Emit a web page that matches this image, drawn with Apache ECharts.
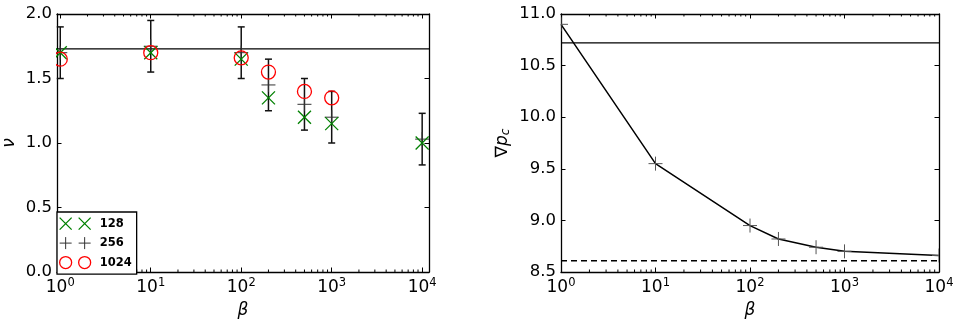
<!DOCTYPE html>
<html><head><meta charset="utf-8">
<script src="https://cdn.jsdelivr.net/npm/echarts@6/dist/echarts.min.js"></script>
<style>html,body{margin:0;padding:0;background:#fff}#c{width:957px;height:324px}</style>
</head><body><div id="c"></div>
<script>
// ---- data (left panel: nu vs beta) ----
const betaLeft = [1, 10, 100, 200, 500, 1000, 10000];
const nu128 = [1.70, 1.70, 1.65, 1.35, 1.20, 1.15, 1.00];
const nu256 = [1.70, 1.75, 1.70, 1.45, 1.30, 1.20, 1.03];
const nu256Low = [1.50, 1.55, 1.50, 1.25, 1.10, 1.00, 0.83];
const nu256High = [1.90, 1.95, 1.90, 1.65, 1.50, 1.40, 1.23];
const beta1024 = [1, 10, 100, 200, 500, 1000];
const nu1024 = [1.65, 1.70, 1.66, 1.55, 1.40, 1.35];
const nuRef = 1.73;
const legendNames = ['128', '256', '1024'];

// ---- data (right panel: grad p_c vs beta) ----
const betaRight = [1, 10, 100, 200, 500, 1000, 10000];
const gradPc = [10.90, 9.55, 8.95, 8.82, 8.74, 8.70, 8.66];
const gradPcUpper = 10.72;
const gradPcLower = 8.61;

// ---- axis ranges / ticks ----
const leftX = [0.92, 11900];
const rightX = [1, 10000];
const leftY = [0, 2];
const rightY = [8.5, 11];
const yInterval = 0.5;
const minorMult = [2, 3, 4, 5, 6, 7, 8, 9];
const decades = [1, 10, 100, 1000];

const FONT = 'DejaVu Sans';
const minorTicks = (lo, hi) => {
  const out = [];
  decades.forEach(d => minorMult.forEach(m => { const v = d * m; if (v > lo && v < hi) out.push(v); }));
  return out;
};

const powFmt = v => {
  const e = Math.log10(v); const r = Math.round(e);
  if (Math.abs(e - r) > 1e-6) return '';
  return '{b|10}{s|' + r + '}';
};
const powRich = {
  b: { fontSize: 17, fontFamily: FONT, color: '#000' },
  s: { fontSize: 11.5, fontFamily: FONT, color: '#000', padding: [0, 0, 9, 0] }
};

function xAxisDef(grid, range, pos, withLabel) {
  return {
    gridIndex: grid, type: 'log', logBase: 10, min: range[0], max: range[1], position: pos,
    axisLine: { show: true, onZero: false, lineStyle: { color: '#000', width: 1.3 } },
    axisTick: { show: true, inside: true, length: 4.5, lineStyle: { color: '#000', width: 1 } },
    axisLabel: withLabel ? { show: true, formatter: powFmt, rich: powRich, margin: 5, color: '#000' } : { show: false },
    splitLine: { show: false }, minorTick: { show: false },
    name: withLabel ? 'β' : '', nameLocation: 'middle', nameGap: 30,
    nameTextStyle: { fontStyle: 'italic', fontSize: 17, fontFamily: FONT, color: '#000' }
  };
}
function yAxisDef(grid, range, pos, withLabel, name, gap, rich) {
  return {
    gridIndex: grid, type: 'value', min: range[0], max: range[1], interval: yInterval, position: pos,
    axisLine: { show: true, onZero: false, lineStyle: { color: '#000', width: 1.3 } },
    axisTick: { show: true, inside: true, length: 4.5, lineStyle: { color: '#000', width: 1 } },
    axisLabel: withLabel ? { show: true, formatter: v => v.toFixed(1), fontSize: 16.5, fontFamily: FONT, color: '#000', margin: 5 } : { show: false },
    splitLine: { show: false },
    name: withLabel ? name : '', nameLocation: 'middle', nameGap: gap, nameRotate: 90,
    nameTextStyle: { fontSize: 17, fontFamily: FONT, color: '#000', fontStyle: 'italic', rich: rich || {} }
  };
}

function minorTickSeries(xIdx, yIdx, ticks, yr) {
  return {
    type: 'custom', xAxisIndex: xIdx, yAxisIndex: yIdx, silent: true, z: 1,
    data: ticks.map(v => [v, yr[0]]),
    encode: { x: 0, y: 1 },
    renderItem: (params, api) => {
      const b = api.coord([api.value(0), yr[0]]);
      const t = api.coord([api.value(0), yr[1]]);
      return { type: 'group', children: [
        { type: 'line', shape: { x1: b[0], y1: b[1], x2: b[0], y2: b[1] - 2.5 }, style: { stroke: '#000', lineWidth: 1 } },
        { type: 'line', shape: { x1: t[0], y1: t[1], x2: t[0], y2: t[1] + 2.5 }, style: { stroke: '#000', lineWidth: 1 } }
      ] };
    }
  };
}

function markerSeries(name, xIdx, yIdx, xs, ys, kind, color, size, lw, z) {
  return {
    name, type: 'custom', xAxisIndex: xIdx, yAxisIndex: yIdx, z, clip: true, silent: true,
    data: xs.map((b, i) => [b, ys[i]]), encode: { x: 0, y: 1 },
    itemStyle: { color },
    renderItem: (params, api) => {
      const p = api.coord([api.value(0), api.value(1)]);
      const h = size / 2;
      const st = { stroke: color, lineWidth: lw, fill: null };
      const ln = (a, b, c, d) => ({ type: 'line', shape: { x1: a, y1: b, x2: c, y2: d }, style: st });
      if (kind === 'o') return { type: 'circle', shape: { cx: p[0], cy: p[1], r: h }, style: st };
      if (kind === 'x') return { type: 'group', children: [
        ln(p[0] - h, p[1] - h, p[0] + h, p[1] + h), ln(p[0] - h, p[1] + h, p[0] + h, p[1] - h)] };
      return { type: 'group', children: [
        ln(p[0] - h, p[1], p[0] + h, p[1]), ln(p[0], p[1] - h, p[0], p[1] + h)] };
    }
  };
}

function hLine(xIdx, yIdx, xr, yv, width, type) {
  return {
    type: 'line', xAxisIndex: xIdx, yAxisIndex: yIdx, silent: true, z: 2, symbol: 'none',
    data: [[xr[0], yv], [xr[1], yv]],
    lineStyle: { color: '#000', width, type }
  };
}

const option = {
  animation: false,
  backgroundColor: '#fff',
  grid: [
    { left: 52, top: 14, width: 377, height: 264 },
    { left: 561, top: 14, width: 378, height: 264 }
  ],
  xAxis: [
    xAxisDef(0, leftX, 'bottom', true),
    xAxisDef(0, leftX, 'top', false),
    xAxisDef(1, rightX, 'bottom', true),
    xAxisDef(1, rightX, 'top', false)
  ],
  yAxis: [
    yAxisDef(0, leftY, 'left', true, 'ν', 39),
    yAxisDef(0, leftY, 'right', false),
    yAxisDef(1, rightY, 'left', true, '{n|∇}{i|p}{s|c}', 49, {
      n: { fontSize: 17, fontFamily: FONT, color: '#000' },
      i: { fontSize: 17, fontFamily: FONT, color: '#000', fontStyle: 'italic' },
      s: { fontSize: 12, fontFamily: FONT, color: '#000', fontStyle: 'italic', padding: [7, 0, 0, 0] }
    }),
    yAxisDef(1, rightY, 'right', false)
  ],
  legend: {
    left: 57, top: 212, orient: 'vertical', selectedMode: false,
    data: [
      { name: legendNames[0], icon: 'path://M0,0L12,12M12,0L0,12M19,0L31,12M31,0L19,12',
        itemStyle: { color: 'rgba(0,0,0,0)', borderColor: '#008000', borderWidth: 1.3 } },
      { name: legendNames[1], icon: 'path://M6,0L6,12M0,6L12,6M25,0L25,12M19,6L31,6',
        itemStyle: { color: 'rgba(0,0,0,0)', borderColor: '#333', borderWidth: 1 } },
      { name: legendNames[2], icon: 'path://M0,6A6,6,0,1,1,12,6A6,6,0,1,1,0,6M19,6A6,6,0,1,1,31,6A6,6,0,1,1,19,6',
        itemStyle: { color: 'rgba(0,0,0,0)', borderColor: '#ff0000', borderWidth: 1.3 } }
    ],
    itemWidth: 31, itemHeight: 12, itemGap: 6.3,
    padding: [5, 5, 5, 2],
    borderColor: '#000', borderWidth: 1.3, backgroundColor: '#fff', borderRadius: 0,
    textStyle: { fontSize: 11.5, fontWeight: 'bold', fontFamily: FONT, color: '#000', padding: [0, 0, 0, 4] }
  },
  series: [
    minorTickSeries(0, 0, minorTicks(leftX[0], leftX[1]), leftY),
    minorTickSeries(2, 2, minorTicks(rightX[0], rightX[1]), rightY),
    hLine(0, 0, leftX, nuRef, 1.1, 'solid'),
    {
      name: 'errorbars', type: 'custom', xAxisIndex: 0, yAxisIndex: 0, z: 3, silent: true,
      data: betaLeft.map((b, i) => [b, nu256Low[i], nu256High[i]]),
      encode: { x: 0, y: [1, 2] },
      renderItem: (params, api) => {
        const lo = api.coord([api.value(0), api.value(1)]);
        const hi = api.coord([api.value(0), api.value(2)]);
        const st = { stroke: '#111', lineWidth: 1.5 };
        const c = 3.5;
        return { type: 'group', children: [
          { type: 'line', shape: { x1: lo[0], y1: lo[1], x2: hi[0], y2: hi[1] }, style: st },
          { type: 'line', shape: { x1: lo[0] - c, y1: lo[1], x2: lo[0] + c, y2: lo[1] }, style: st },
          { type: 'line', shape: { x1: hi[0] - c, y1: hi[1], x2: hi[0] + c, y2: hi[1] }, style: st }
        ] };
      }
    },
    markerSeries(legendNames[1], 0, 0, betaLeft, nu256, '+', '#333', 14, 1, 4),
    markerSeries(legendNames[0], 0, 0, betaLeft, nu128, 'x', '#008000', 13, 1.3, 5),
    markerSeries(legendNames[2], 0, 0, beta1024, nu1024, 'o', '#ff0000', 14, 1.3, 6),
    hLine(2, 2, rightX, gradPcUpper, 1.1, 'solid'),
    hLine(2, 2, rightX, gradPcLower, 1.5, [6, 4]),
    {
      name: 'gradLine', type: 'line', xAxisIndex: 2, yAxisIndex: 2, z: 3, clip: true, silent: true,
      data: betaRight.map((b, i) => [b, gradPc[i]]),
      showSymbol: false, symbol: 'none',
      lineStyle: { color: '#000', width: 1.5 }
    },
    markerSeries('gradMarks', 2, 2, betaRight, gradPc, '+', '#555', 14, 1, 4)
  ]
};
const chart = echarts.init(document.getElementById('c'), null, { renderer: 'canvas' });
chart.setOption(option);
</script></body></html>
